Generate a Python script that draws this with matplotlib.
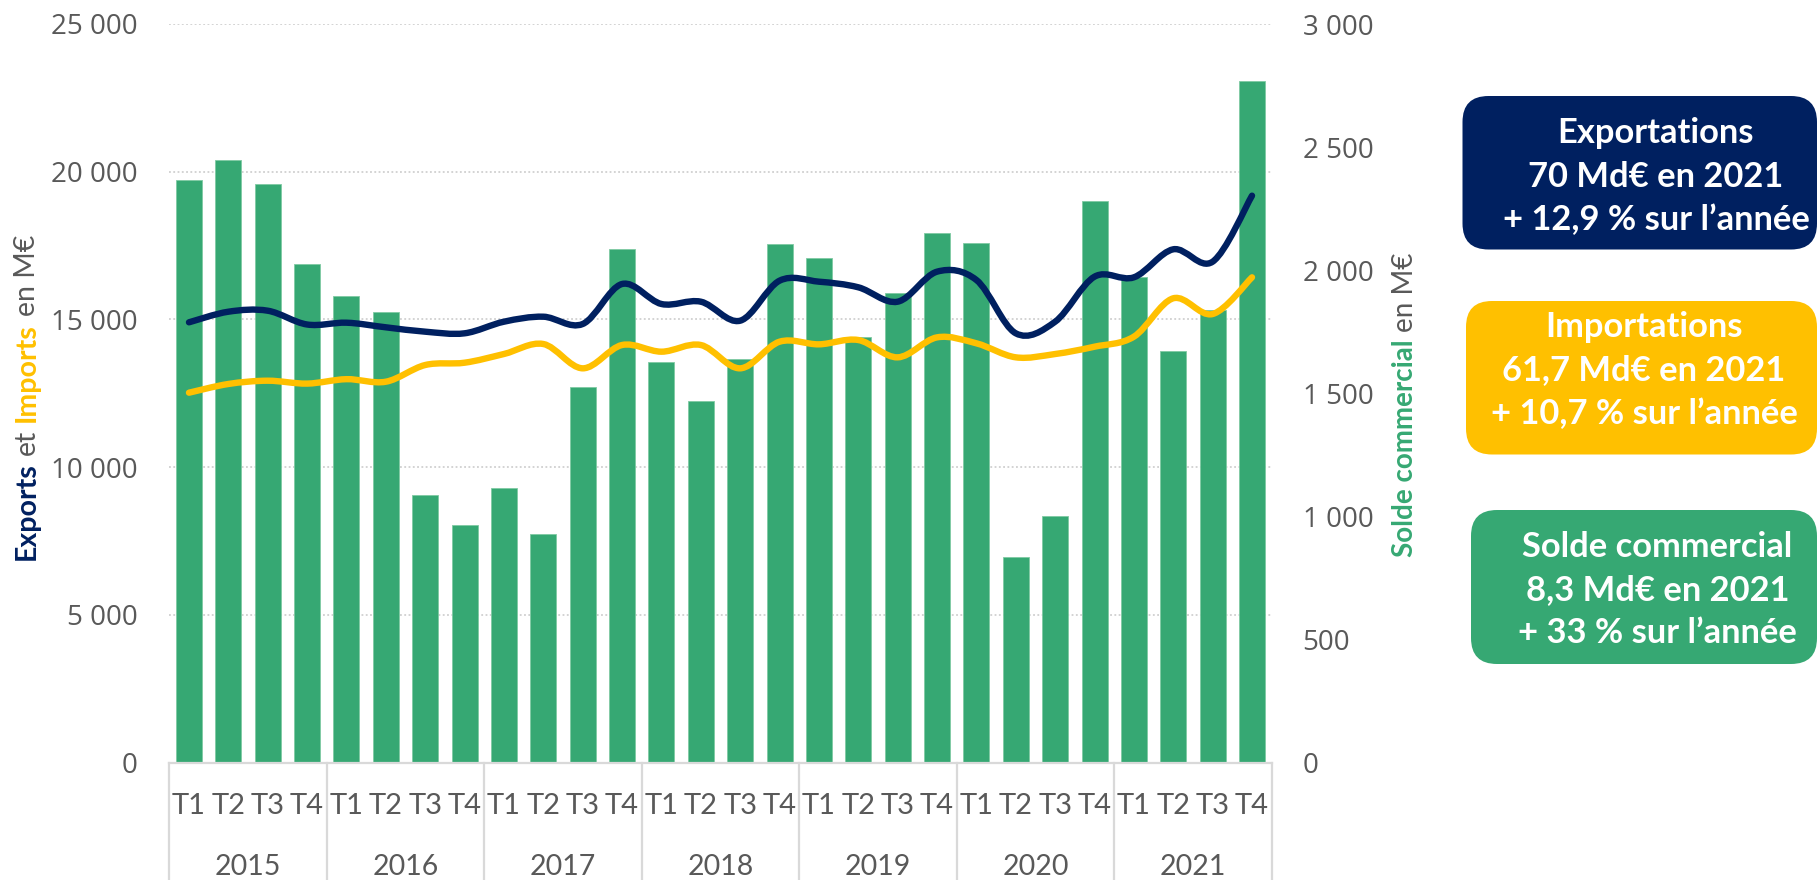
import numpy as np
import matplotlib
matplotlib.use("Agg")
import matplotlib.pyplot as plt
from matplotlib import font_manager
from matplotlib.path import Path
from matplotlib.patches import PathPatch, FancyBboxPatch
from matplotlib.transforms import blended_transform_factory

# ---------------- data ----------------
years = ["2015", "2016", "2017", "2018", "2019", "2020", "2021"]
quarters = ["T1", "T2", "T3", "T4"]

solde = [2366, 2446, 2349, 2025, 1894, 1830, 1088, 964,
         1116, 929, 1527, 2086, 1629, 1470, 1641, 2107,
         2051, 1730, 1906, 2150, 2112, 835, 1000, 2282,
         1971, 1672, 1838, 2770]

exports = [14904, 15263, 15297, 14830, 14891, 14735, 14587, 14532,
           14925, 15094, 14847, 16201, 15524, 15602, 14959, 16313,
           16279, 16089, 15602, 16618, 16336, 14532, 14925, 16449,
           16427, 17375, 16956, 19190]

imports = [12522, 12817, 12928, 12830, 12980, 12894, 13459, 13537,
           13832, 14170, 13347, 14136, 13910, 14136, 13347, 14248,
           14159, 14305, 13719, 14395, 14193, 13719, 13831, 14079,
           14418, 15717, 15185, 16427]

left_ticks = [0, 5000, 10000, 15000, 20000, 25000]
right_ticks = [0, 500, 1000, 1500, 2000, 2500, 3000]

box_lines = [
    ["Exportations", "70 Md€ en 2021", "+ 12,9 % sur l’année"],
    ["Importations", "61,7 Md€ en 2021", "+ 10,7 % sur l’année"],
    ["Solde commercial", "8,3 Md€ en 2021", "+ 33 % sur l’année"],
]

# ---------------- style ----------------
NAVY = "#002060"
YELLOW = "#FFC000"
GREEN = "#36A873"
GRAY = "#595959"
LGRAY = "#d9d9d9"


def pick(*names):
    for n in names:
        try:
            font_manager.findfont(font_manager.FontProperties(family=n),
                                  fallback_to_default=False)
            return n
        except Exception:
            continue
    return "DejaVu Sans"


F_TICK = pick("Open Sans", "DejaVu Sans")
F_CAT = pick("Lato", "Open Sans", "DejaVu Sans")

W, H = 1818, 880
fig = plt.figure(figsize=(W / 100, H / 100), dpi=100)

# plot area in pixels
px_l, px_r, px_t, px_b = 169.3, 1271.7, 24.0, 762.7
rect = [px_l / W, 1 - px_b / H, (px_r - px_l) / W, (px_b - px_t) / H]

ax_b = fig.add_axes(rect)          # bars, right scale
ax_l = ax_b.twinx()                # lines, left scale

n = len(solde)
x = np.arange(n)

ax_b.set_xlim(-0.5, n - 0.5)
ax_b.set_ylim(right_ticks[0], right_ticks[-1])
ax_l.set_ylim(left_ticks[0], left_ticks[-1])

# dotted gridlines (aligned with the left scale, drawn under bars)
ratio = right_ticks[-1] / left_ticks[-1]
for v in left_ticks[1:]:
    ax_b.axhline(v * ratio, color="#c8c8c8", lw=1.1,
                 ls=(0, (1.2, 1.6)), zorder=0)

ax_b.bar(x, solde, width=0.66, color=GREEN, edgecolor="#7fcaa3",
         linewidth=0.6, zorder=2)


def smooth_path(xs, ys):
    pts = np.column_stack([xs, ys]).astype(float)
    verts = [pts[0]]
    codes = [Path.MOVETO]
    m = len(pts)
    for i in range(m - 1):
        p0 = pts[i - 1] if i > 0 else pts[i]
        p1, p2 = pts[i], pts[i + 1]
        p3 = pts[i + 2] if i + 2 < m else pts[i + 1]
        c1 = p1 + (p2 - p0) / 6.0
        c2 = p2 - (p3 - p1) / 6.0
        verts += [c1, c2, p2]
        codes += [Path.CURVE4] * 3
    return Path(verts, codes)


for series, col in [(imports, YELLOW), (exports, NAVY)]:
    patch = PathPatch(smooth_path(x, series), fill=False, edgecolor=col,
                      lw=4.6, capstyle="round", joinstyle="round", zorder=3)
    ax_l.add_patch(patch)

ax_l.set_zorder(ax_b.get_zorder() + 1)
ax_l.patch.set_visible(False)

for a in (ax_b, ax_l):
    for s in a.spines.values():
        s.set_visible(False)


def fmt(v):
    return f"{v:,}".replace(",", " ")


ax_l.yaxis.tick_left()
ax_l.set_yticks(left_ticks)
ax_l.set_yticklabels([fmt(v) for v in left_ticks])
ax_b.yaxis.tick_right()
ax_b.set_yticks(right_ticks)
ax_b.set_yticklabels([fmt(v) for v in right_ticks])
ax_l.tick_params(axis="y", length=0, pad=22.7, labelsize=20, labelcolor=GRAY)
ax_b.tick_params(axis="y", length=0, pad=22.2, labelsize=20, labelcolor=GRAY)
for lab in ax_l.get_yticklabels() + ax_b.get_yticklabels():
    lab.set_fontfamily(F_TICK)
ax_b.set_xticks([])

# category axis (quarters + years with separators)
trans = blended_transform_factory(ax_b.transData, ax_b.transAxes)
ax_b.plot([-0.5, n - 0.5], [0, 0], transform=trans, color=LGRAY, lw=1.6,
          clip_on=False, zorder=4)
bottom_ax = (px_b - H) / (px_b - px_t)
for k in range(len(years) + 1):
    xb = -0.5 + 4 * k
    ax_b.plot([xb, xb], [0, bottom_ax], transform=trans, color=LGRAY,
              lw=1.6, clip_on=False)
y_q = (px_b - 814) / (px_b - px_t)
y_y = (px_b - 875) / (px_b - px_t)
for i in range(n):
    ax_b.text(i, y_q, quarters[i % 4], transform=trans, ha="center",
              va="baseline", fontsize=21, color=GRAY, family=F_CAT)
for k, yr in enumerate(years):
    ax_b.text(4 * k + 1.5, y_y, yr, transform=trans, ha="center",
              va="baseline", fontsize=20.5, color=GRAY, family=F_CAT)

# ---------------- overlay in pixel coordinates ----------------
ov = fig.add_axes([0, 0, 1, 1])
ov.set_xlim(0, W)
ov.set_ylim(H, 0)
ov.axis("off")
ov.patch.set_visible(False)

renderer = fig.canvas.get_renderer()


def rotated_title(x_base, y_start, pieces, size):
    # measure a space
    t1 = ov.text(0, 0, "x x", fontsize=size, family=F_CAT)
    t2 = ov.text(0, 0, "xx", fontsize=size, family=F_CAT)
    sp = (t1.get_window_extent(renderer).width -
          t2.get_window_extent(renderer).width)
    t1.remove()
    t2.remove()
    y = y_start
    for txt, col, wt in pieces:
        t = ov.text(x_base, y, txt, rotation=90, rotation_mode="anchor",
                    ha="left", va="baseline", fontsize=size, color=col,
                    fontweight=wt, family=F_CAT)
        h = t.get_window_extent(renderer).height
        y -= h + sp


rotated_title(35, 560, [("Exports", NAVY, "bold"), ("et", GRAY, "normal"),
                        ("Imports", YELLOW, "bold"), ("en M€", GRAY, "normal")],
              20.5)
rotated_title(1413, 557, [("Solde commercial", GREEN, "bold"),
                          ("en M€", GRAY, "normal")], 20)

boxes = [
    (1462.5, 96, 1817 - 1462.5, 249.5 - 96, NAVY, 1656, [143.3, 186.7, 230]),
    (1466, 301, 1817 - 1466, 454.5 - 301, YELLOW, 1644, [337, 380.5, 424.5]),
    (1471, 510, 1817 - 1471, 664 - 510, GREEN, 1657.5, [557, 600, 643]),
]
for (bx, by, bw, bh, col, cx, bases), lines in zip(boxes, box_lines):
    ov.add_patch(FancyBboxPatch((bx, by), bw, bh,
                                boxstyle="round,pad=0,rounding_size=26",
                                facecolor=col, edgecolor="none"))
    for yb, s in zip(bases, lines):
        ov.text(cx, yb, s, ha="center", va="baseline", fontsize=24.8,
                fontweight="bold", color="white", family=F_CAT)

fig.savefig("out.png", dpi=100)
